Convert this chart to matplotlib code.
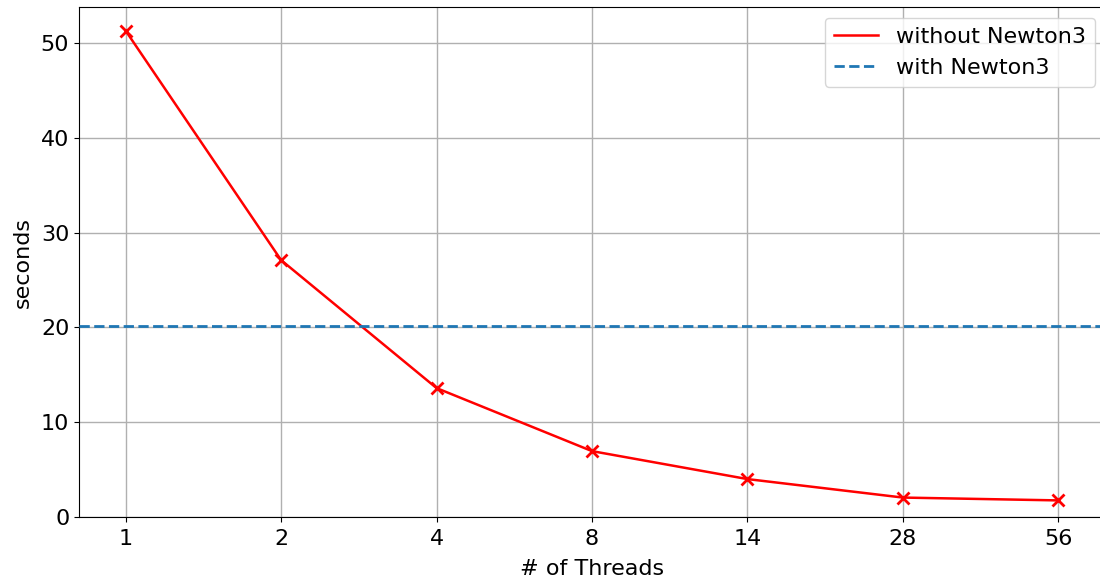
import matplotlib
matplotlib.use("Agg")
import matplotlib.pyplot as plt
from matplotlib.lines import Line2D

threads = ["1", "2", "4", "8", "14", "28", "56"]
without_newton3 = [51.3, 27.1, 13.6, 6.95, 4.0, 2.05, 1.75]
with_newton3 = 20.15

fs = 16
fig = plt.figure(figsize=(11, 5.82), dpi=100)
ax = fig.add_axes([79/1100, 65/582, 1026/1100, 510/582])
x = list(range(len(threads)))
ax.plot(x, without_newton3, color="red", marker="x", markersize=8, markeredgewidth=2,
        linewidth=1.8, zorder=3)
ax.axhline(with_newton3, color="#1f77b4", linestyle="--", linewidth=2, zorder=3)
ax.set_xticks(x)
ax.set_xticklabels(threads)
ax.set_xlim(-0.3, 6.3)
ax.set_ylim(0, 53.8)
ax.grid(True, color="#b0b0b0", linewidth=1)
ax.set_axisbelow(True)
ax.tick_params(labelsize=fs)
ax.tick_params(axis="x", pad=5)
ax.set_xlabel("# of Threads", fontsize=fs, labelpad=7)
ax.set_ylabel("seconds", fontsize=fs, labelpad=6)
handles = [Line2D([], [], color="red", linewidth=1.8),
           Line2D([], [], color="#1f77b4", linestyle="--", linewidth=2)]
ax.legend(handles, ["without Newton3", "with Newton3"], fontsize=fs, loc="upper right",
          borderaxespad=0, bbox_to_anchor=((1095-79)/1026, (517-18)/510))
fig.savefig("out.png", dpi=100)
